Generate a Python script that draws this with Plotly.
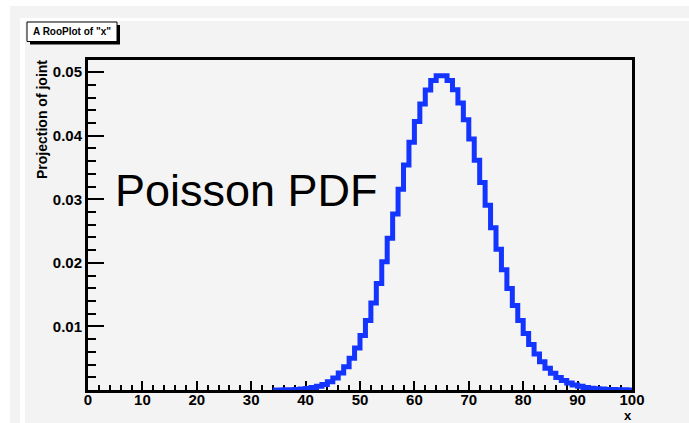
import plotly.graph_objects as go

# Poisson probabilities P(k), drawn as a step curve over each unit bin [k, k+1)
k_values = list(range(34, 100))
prob = [
    0.0000087, 0.0000162, 0.0000292, 0.0000513, 0.0000878, 0.000146,
    0.000238, 0.000377, 0.000583, 0.000881, 0.001302, 0.001880,
    0.002657, 0.003674, 0.004975, 0.006600, 0.008580, 0.010935,
    0.013668, 0.016763, 0.020178, 0.023847, 0.027679, 0.031564,
    0.035373, 0.038970, 0.042218, 0.044986, 0.047163, 0.048660,
    0.049420, 0.049420, 0.048671, 0.047218, 0.045135, 0.042519,
    0.039482, 0.036146, 0.032632, 0.029056, 0.025522, 0.022119,
    0.018918, 0.015970, 0.013308, 0.010950, 0.008897, 0.007140,
    0.005660, 0.004432, 0.003430, 0.002623, 0.001982, 0.001481,
    0.001094, 0.000799, 0.000577, 0.000412, 0.000291, 0.000203,
    0.000141, 0.0000963, 0.0000652, 0.0000437, 0.0000290, 0.0000190,
]
x_ticks = [0, 10, 20, 30, 40, 50, 60, 70, 80, 90, 100]
y_ticks = [0.01, 0.02, 0.03, 0.04, 0.05]
y_tick_text = ["0.01", "0.02", "0.03", "0.04", "0.05"]

FONT = "Liberation Sans, Arial, Helvetica, sans-serif"
W_PX, H_PX = 689, 423
L, R, T, B = 88, 632, 60, 390  # plot frame in pixels


def px(x):
    return (x - L) / (R - L)


def py(y):
    return (B - y) / (B - T)


fig = go.Figure()
fig.add_trace(go.Scatter(
    x=k_values + [100],
    y=prob + [prob[-1]],
    mode="lines",
    line=dict(color="#1434ff", width=5, shape="hv"),
    hoverinfo="skip",
    showlegend=False,
))

axis_common = dict(
    showgrid=False, zeroline=False,
    showline=True, linecolor="black", linewidth=3, mirror=True,
    ticks="inside", tickcolor="black", tickwidth=2,
    tickfont=dict(family=FONT, size=15, color="black", weight="bold"),
    layer="below traces",
)

fig.update_xaxes(
    range=[0, 100], tickmode="array", tickvals=x_ticks,
    ticktext=[str(v) for v in x_ticks], ticklen=9,
    ticklabelstandoff=-6,
    minor=dict(tickmode="linear", tick0=0, dtick=2, ticks="inside",
               ticklen=5, tickwidth=2, tickcolor="black"),
    **axis_common,
)
fig.update_yaxes(
    range=[0, 0.0519], tickmode="array", tickvals=y_ticks,
    ticktext=y_tick_text, ticklen=16,
    minor=dict(tickmode="linear", tick0=0, dtick=0.002, ticks="inside",
               ticklen=8, tickwidth=2, tickcolor="black"),
    **axis_common,
)

shapes = [
    # canvas edges and bevel highlight
    dict(type="rect", xref="paper", yref="paper", x0=px(0), x1=px(W_PX),
         y0=py(0), y1=py(6), fillcolor="white", line_width=0, layer="below"),
    dict(type="rect", xref="paper", yref="paper", x0=px(0), x1=px(10),
         y0=py(0), y1=py(H_PX), fillcolor="white", line_width=0, layer="below"),
    dict(type="rect", xref="paper", yref="paper", x0=px(20), x1=px(W_PX),
         y0=py(18), y1=py(21), fillcolor="white", line_width=0, layer="below"),
    dict(type="rect", xref="paper", yref="paper", x0=px(20), x1=px(25),
         y0=py(18), y1=py(H_PX), fillcolor="white", line_width=0, layer="below"),
    # title box with drop shadow
    dict(type="rect", xref="paper", yref="paper", x0=px(30), x1=px(120),
         y0=py(25), y1=py(44.5), fillcolor="black", line_width=0, layer="above"),
    dict(type="rect", xref="paper", yref="paper", x0=px(27), x1=px(117),
         y0=py(22), y1=py(41.5), fillcolor="white",
         line=dict(color="black", width=1), layer="above"),
]

annotations = [
    dict(text='A RooPlot of "x"', xref="paper", yref="paper",
         x=px(31), y=py(32), xanchor="left", yanchor="middle", showarrow=False,
         font=dict(family=FONT, size=10, color="black", weight="bold")),
    dict(text="Projection of joint", xref="paper", yref="paper",
         x=px(42), y=py(120), xanchor="center", yanchor="middle",
         textangle=-90, showarrow=False,
         font=dict(family=FONT, size=14, color="black", weight="bold")),
    dict(text="x", xref="paper", yref="paper",
         x=px(627.5), y=py(415.5), xanchor="center", yanchor="middle",
         showarrow=False, borderpad=0,
         font=dict(family=FONT, size=13, color="black", weight="bold")),
    dict(text="Poisson PDF", xref="paper", yref="paper",
         x=px(113), y=py(190), xanchor="left", yanchor="middle",
         showarrow=False,
         font=dict(family=FONT, size=45, color="black")),
]

fig.update_layout(
    width=W_PX, height=H_PX,
    margin=dict(l=L, r=W_PX - R, t=T, b=H_PX - B, autoexpand=False),
    paper_bgcolor="#f3f3f3", plot_bgcolor="#f4f4f4",
    shapes=shapes, annotations=annotations,
    showlegend=False,
)

fig.write_html("out.html")
